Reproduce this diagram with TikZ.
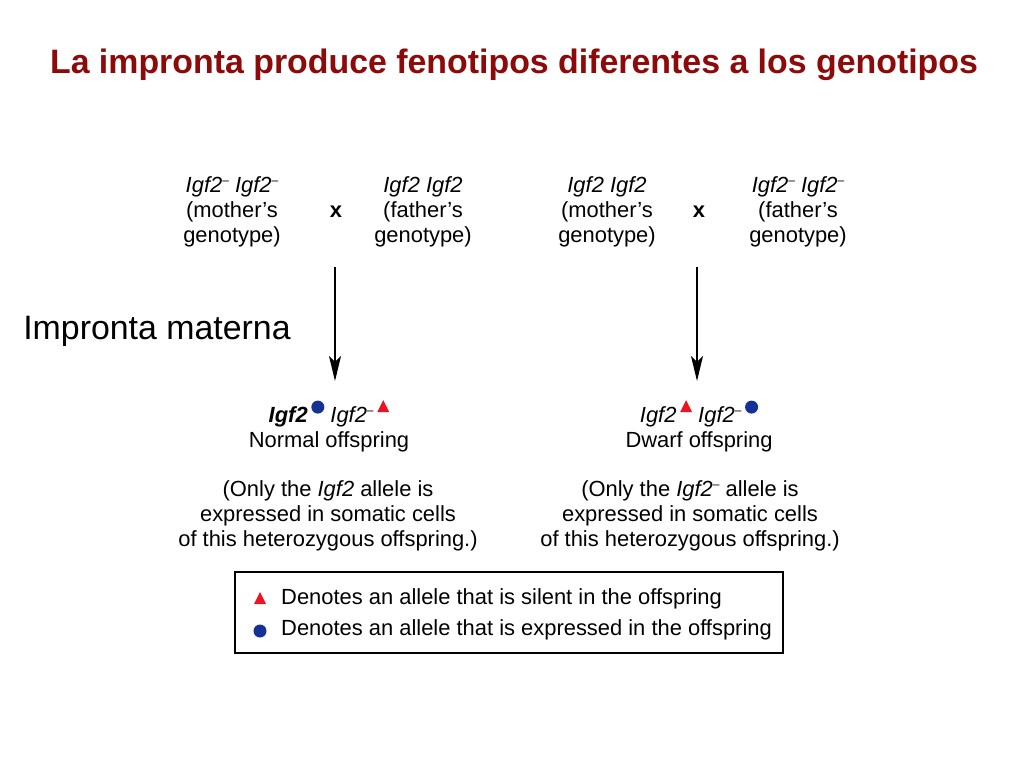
\documentclass[tikz,border=0pt]{standalone}
\usepackage{fontspec}
\setmainfont{Liberation Sans}
\usetikzlibrary{arrows.meta}
\definecolor{titlered}{RGB}{140,10,10}
\definecolor{symred}{RGB}{235,20,35}
\definecolor{symblue}{RGB}{20,50,150}
\newcommand{\smin}{\raisebox{0.68ex}{\fontsize{12}{12}\selectfont –}}
\newcommand{\gene}{\textit{Igf2}}
\newcommand{\symtri}{\tikz[baseline=-10bp]\fill[symred] (0,0) -- (12bp,0) -- (6bp,12bp) -- cycle;}
\newcommand{\symdot}{\tikz[baseline=-15bp]\fill[symblue] (0,0) circle (6.5bp);}
\begin{document}
\begin{tikzpicture}[x=1bp,y=-1bp,
  txt/.style={align=center,inner sep=0pt,font=\fontsize{22}{25}\selectfont},
  arr/.style={draw=black,line width=1.4bp,-{Stealth[length=25bp,width=12bp,inset=6bp]}}]
\useasboundingbox[fill=white] (0,0) rectangle (1024,768);
\node[font=\fontsize{34}{38}\selectfont\bfseries,text=titlered,inner sep=0pt] (title) at (514,65) {La impronta produce fenotipos diferentes a los genotipos};

% left cross
\node[txt] (lm) at (232,212) {\gene\smin\ \gene\smin\\(mother's\\genotype)};
\node[txt,font=\fontsize{22}{25}\selectfont\bfseries] (lx) at (336,212) {x};
\node[txt] (lf) at (423,212) {\gene\ \gene\\(father's\\genotype)};
% right cross
\node[txt] (rm) at (607,212) {\gene\ \gene\\(mother's\\genotype)};
\node[txt,font=\fontsize{22}{25}\selectfont\bfseries] (rx) at (699,212) {x};
\node[txt] (rf) at (798,212) {\gene\smin\ \gene\smin\\(father's\\genotype)};

\coordinate (la0) at (335,267);
\coordinate (la1) at (335,381);
\coordinate (ra0) at (697,267);
\coordinate (ra1) at (697,381);
\draw[arr] (la0) -- (la1);
\draw[arr] (ra0) -- (ra1);

\node[inner sep=0pt,font=\fontsize{34}{38}\selectfont] (imp) at (157,331) {Impronta materna};

% offspring
\node[txt,anchor=base] (lo) at (329,447) {\textbf{\gene}\,\symdot\ \gene\smin\,\symtri\\Normal offspring};
\node[txt,anchor=base] (ro) at (699,447) {\gene\,\symtri\ \gene\smin\,\symdot\\Dwarf offspring};

\node[txt] (ln) at (328,516) {(Only the \gene\ allele is\\expressed in somatic cells\\of this heterozygous offspring.)};
\node[txt] (rn) at (690,516) {(Only the \gene\smin\ allele is\\expressed in somatic cells\\of this heterozygous offspring.)};

% legend
\draw[line width=1.2bp] (235,572) rectangle (783,653);
\fill[symred] (254,604) -- (266,604) -- (260,592) -- cycle;
\fill[symblue] (260,631) circle (6.5);
\node[txt,anchor=west] (l1) at (281,599) {Denotes an allele that is silent in the offspring};
\node[txt,anchor=west] (l2) at (281,630) {Denotes an allele that is expressed in the offspring};
\end{tikzpicture}
\end{document}
